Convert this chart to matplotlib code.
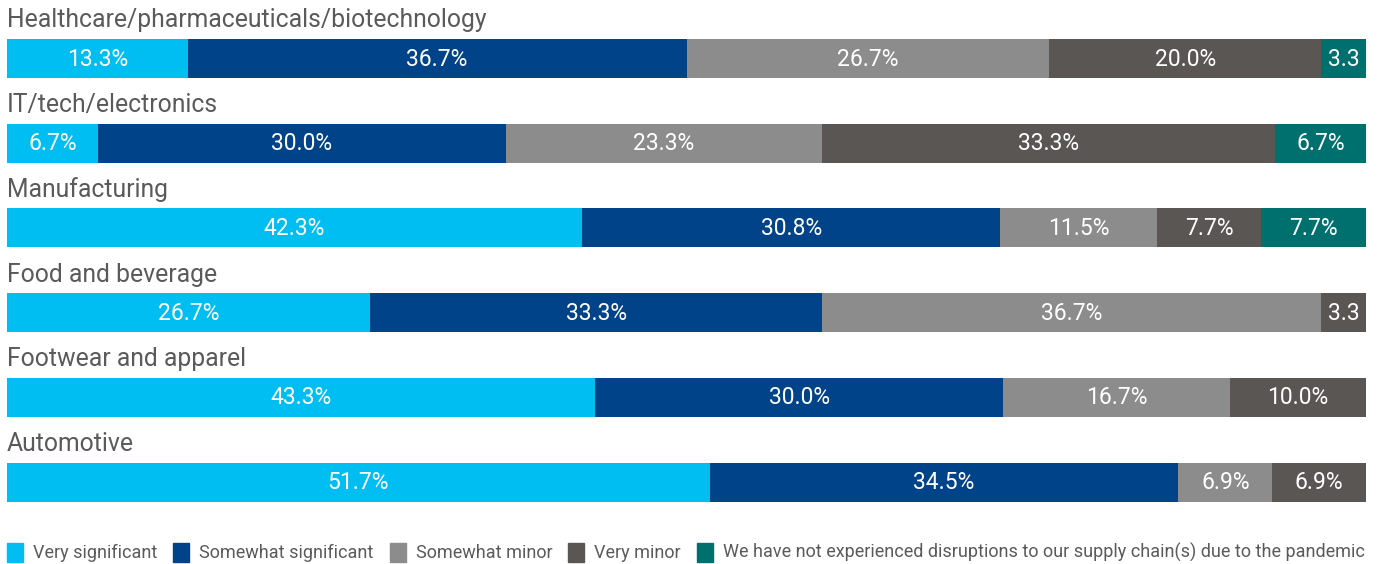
import matplotlib
matplotlib.use("Agg")
import matplotlib.pyplot as plt
from matplotlib.patches import Rectangle
import numpy as np

# Survey data: share of respondents per industry (percent)
industries = [
    "Healthcare/pharmaceuticals/biotechnology",
    "IT/tech/electronics",
    "Manufacturing",
    "Food and beverage",
    "Footwear and apparel",
    "Automotive",
]
series_names = [
    "Very significant",
    "Somewhat significant",
    "Somewhat minor",
    "Very minor",
    "We have not experienced disruptions to our supply chain(s) due to the pandemic",
]
very_significant = [13.3, 6.7, 42.3, 26.7, 43.3, 51.7]
somewhat_significant = [36.7, 30.0, 30.8, 33.3, 30.0, 34.5]
somewhat_minor = [26.7, 23.3, 11.5, 36.7, 16.7, 6.9]
very_minor = [20.0, 33.3, 7.7, 3.3, 10.0, 6.9]
not_experienced = [3.3, 6.7, 7.7, 0.0, 0.0, 0.0]

# Printed labels (small segments are shown without the percent sign)
value_labels = [
    ["13.3%", "6.7%", "42.3%", "26.7%", "43.3%", "51.7%"],
    ["36.7%", "30.0%", "30.8%", "33.3%", "30.0%", "34.5%"],
    ["26.7%", "23.3%", "11.5%", "36.7%", "16.7%", "6.9%"],
    ["20.0%", "33.3%", "7.7%", "3.3", "10.0%", "6.9%"],
    ["3.3", "6.7%", "7.7%", "", "", ""],
]

colors = ["#00BDF2", "#014388", "#8C8C8C", "#595654", "#00706F"]
text_grey = "#5A5A5A"

plt.rcParams["font.family"] = ["Roboto", "DejaVu Sans"]

W, H, DPI = 1381, 564, 100
fig = plt.figure(figsize=(W / DPI, H / DPI), dpi=DPI)
fig.patch.set_facecolor("white")

# Axes spans bar extent horizontally; vertical axis in pixel units from top
x0, x1 = 7, 1366
ax = fig.add_axes([x0 / W, 0, (x1 - x0) / W, 1])
ax.set_xlim(0, 100)
ax.set_ylim(H, 0)
ax.axis("off")

row_first, row_step, bar_h = 58.5, 84.7, 39
ypos = row_first + row_step * np.arange(len(industries))

series = [very_significant, somewhat_significant, somewhat_minor,
          very_minor, not_experienced]
left = np.zeros(len(industries))
for k, vals in enumerate(series):
    vals = np.array(vals)
    ax.barh(ypos, vals, left=left, height=bar_h, color=colors[k],
            edgecolor="none", linewidth=0)
    for i, v in enumerate(vals):
        if v > 0 and value_labels[k][i]:
            ax.text(left[i] + v / 2, ypos[i] + 0.5, value_labels[k][i],
                    ha="center", va="center", color="white",
                    fontsize=16.5)
    left += vals

# Industry names above each bar
for i, name in enumerate(industries):
    fig.text(x0 / W, 1 - (ypos[i] - bar_h / 2 - 11.5) / H, name,
             ha="left", va="baseline", color=text_grey,
             fontsize=17.8)

# Legend row along the bottom
fig.canvas.draw()
renderer = fig.canvas.get_renderer()
sq = 16
lx = 7
base_y = 558
for k, name in enumerate(series_names):
    fig.patches.append(Rectangle((lx / W, 1 - (base_y + 4) / H), sq / W, 19 / H,
                                 transform=fig.transFigure, color=colors[k],
                                 figure=fig))
    t = fig.text((lx + sq + 10) / W, 1 - base_y / H, name, ha="left",
                 va="baseline", color=text_grey, fontsize=13)
    bb = t.get_window_extent(renderer)
    lx = bb.x1 + 16

fig.savefig("out.png", dpi=DPI, facecolor="white")
